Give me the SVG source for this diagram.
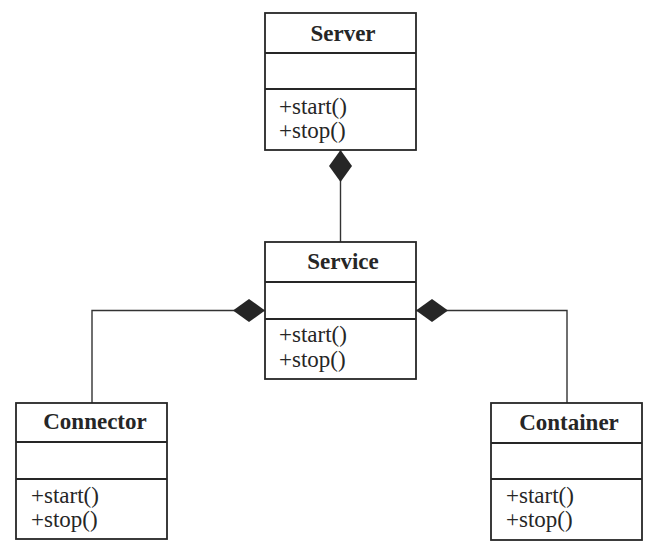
<svg xmlns="http://www.w3.org/2000/svg" width="654" height="550" viewBox="0 0 654 550">
  <style>
    .box { fill: #ffffff; stroke: #262626; stroke-width: 1.8; }
    .div { stroke: #262626; stroke-width: 1.8; }
    .title { font-family: "Liberation Serif", "Times New Roman", serif; font-weight: bold; font-size: 23px; fill: #262626; text-anchor: middle; }
    .op { font-family: "Liberation Serif", "Times New Roman", serif; font-size: 23px; fill: #262626; }
    .conn { fill: none; stroke: #333333; stroke-width: 1.4; marker-start: url(#diamond); }
  </style>
  <defs>
    <marker id="diamond" markerUnits="userSpaceOnUse" markerWidth="34" markerHeight="24" refX="0" refY="11.5" orient="auto" viewBox="0 0 34 24">
      <path d="M0,11.5 L16,0 L32,11.5 L16,23 Z" fill="#262626"/>
    </marker>
  </defs>
  <rect width="654" height="550" fill="#ffffff"/>

  <g id="connectors">
    <path class="conn" d="M340.5,150 L340.5,242"/>
    <path class="conn" d="M265,310.5 L92,310.5 L92,403"/>
    <path class="conn" d="M416,310.5 L567,310.5 L567,403"/>
  </g>

  <g id="server">
    <rect class="box" x="265" y="13" width="151" height="137"/>
    <line class="div" x1="265" y1="53" x2="416" y2="53"/>
    <line class="div" x1="265" y1="89" x2="416" y2="89"/>
    <text class="title" x="343" y="41">Server</text>
    <text class="op" x="279" y="114">+start()</text>
    <text class="op" x="279" y="138">+stop()</text>
  </g>

  <g id="service">
    <rect class="box" x="265" y="242" width="151" height="137"/>
    <line class="div" x1="265" y1="282" x2="416" y2="282"/>
    <line class="div" x1="265" y1="319" x2="416" y2="319"/>
    <text class="title" x="343" y="269">Service</text>
    <text class="op" x="279" y="342">+start()</text>
    <text class="op" x="279" y="367">+stop()</text>
  </g>

  <g id="connector">
    <rect class="box" x="16" y="403" width="151" height="136"/>
    <line class="div" x1="16" y1="442" x2="167" y2="442"/>
    <line class="div" x1="16" y1="479" x2="167" y2="479"/>
    <text class="title" x="95" y="429">Connector</text>
    <text class="op" x="31" y="503">+start()</text>
    <text class="op" x="31" y="527">+stop()</text>
  </g>

  <g id="container">
    <rect class="box" x="491" y="403" width="151" height="137"/>
    <line class="div" x1="491" y1="443" x2="642" y2="443"/>
    <line class="div" x1="491" y1="479" x2="642" y2="479"/>
    <text class="title" x="569" y="430">Container</text>
    <text class="op" x="506" y="503">+start()</text>
    <text class="op" x="506" y="527">+stop()</text>
  </g>
</svg>
